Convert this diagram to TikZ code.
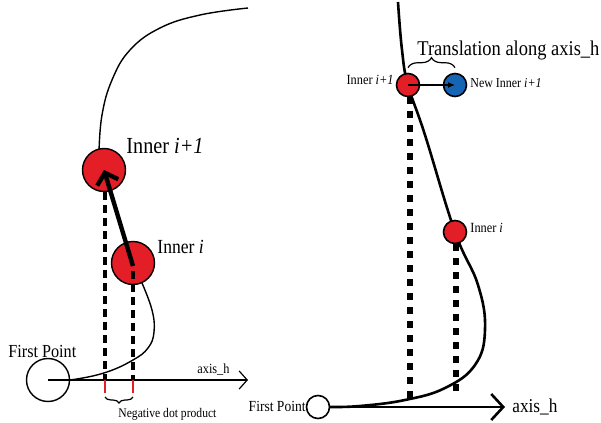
\documentclass[tikz,border=0pt]{standalone}
\usepackage{fontspec}
\setmainfont[FakeStretch=0.88]{Liberation Serif}
\usetikzlibrary{arrows.meta,decorations.pathreplacing,calc}
\definecolor{innerred}{HTML}{E31E26}
\definecolor{newblue}{HTML}{1565B4}
\tikzset{
	ptnode/.style={circle,draw,inner sep=0pt,line width=0.7pt},
	bigpt/.style={ptnode,minimum size=21.5pt},
	smallpt/.style={ptnode,minimum size=11.5pt,line width=0.8pt},
	proj/.style={line width=2pt,dash pattern=on 4pt off 2.5pt},
	bigproj/.style={line width=3pt,dash pattern=on 3.5pt off 3.5pt},
	redtick/.style={innerred,line width=0.6pt},
	br/.style={decorate,decoration={brace,amplitude=#1},line width=0.6pt},
	lbl/.style={anchor=base west,inner sep=0pt,font=\fontsize{#1}{#1}\selectfont},
	rlbl/.style={anchor=base east,inner sep=0pt,font=\fontsize{#1}{#1}\selectfont}
}

\begin{document}
\begin{tikzpicture}[x=0.5pt,y=-0.5pt]
		\path (0,0) rectangle (601,423);
		\newcommand{\leftupper}{(248,8) (200,15) (160,28) (130,50) (112,80) (102,115) (99,152)}
		\newcommand{\leftlower}{(142,283) (152,310) (154,332) (148,348) (133,360) (107,372) (77,379) (60,380)}
		\newcommand{\rightcurve}{(398,2) (402,50) (408,85) (425,135) (455,232) (478,285) (485,330) (475,365) (445,388) (405,400) (360,406) (330,407)}

		% left
		\draw[line width=0.7pt] plot[smooth, tension=0.7] coordinates{\leftupper};
		\draw[line width=0.7pt] plot[smooth, tension=0.7] coordinates{\leftlower};
		\node[bigpt] (lfirst) at (48,380) {};
		\node[bigpt,fill=innerred] (lnext) at (104,170) {};
		\node[bigpt,fill=innerred] (lcur) at (133,263) {};
		\coordinate (lp1) at (105,380);
		\coordinate (lp2) at (133,380);
		\coordinate (laxis) at (248,380);
		\draw[proj] (lnext.south -| lp1) -- (lp1);
		\draw[proj] ($(lcur.center)+(0,8)$) -- (lp2);
		\draw[line width=0.6pt,-{Straight Barb[length=4pt,width=9pt]}] (lfirst.center) -- (laxis);
		\draw[line width=2.2pt,-{Straight Barb[length=5pt,width=11pt]}] ($(lcur.center)+(0,3)$) -- (lnext.center);
		\draw[redtick] (lp1) -- ++(0,13);
		\draw[redtick] (lp2) -- ++(0,13);
		\draw[br=3pt] ($(lp2)+(0,17)$) -- ($(lp1)+(0,17)$);

		\node[lbl=11.5] (lnextlbl) at (126,154) {Inner \textit{i+1}};
		\node[lbl=10] (lcurlbl) at (157,253) {Inner \textit{i}};
		\node[lbl=9.2] (lfirstlbl) at (8,357) {First Point};
		\node[lbl=7] (laxislbl) at (197,373) {axis\_h};
		\node[lbl=6.6] (neglbl) at (118,417) {Negative dot product};

		% right
		\draw[line width=1.3pt] plot[smooth, tension=0.7] coordinates{\rightcurve};
		\node[smallpt,fill=white] (rfirst) at (318,407) {};
		\node[smallpt,fill=innerred] (rnext) at (408,85) {};
		\node[smallpt,fill=newblue] (rnew) at (455,85) {};
		\node[smallpt,fill=innerred] (rcur) at (455,232) {};
		\coordinate (rp1) at (410,398);
		\coordinate (rp2) at (456,392);
		\coordinate (raxis) at (505,407);
		\draw[bigproj] (rnext.south -| rp1) -- (rp1);
		\draw[bigproj] (rcur.south -| rp2) -- (rp2);
		\draw[line width=1.3pt,-{Straight Barb[length=6pt,width=13pt]}] (rfirst) -- (raxis);
		\draw[line width=0.6pt,-{Latex[length=3.5pt,width=3pt]}] (rnext.center) -- (rnew.center);
		\draw[br=5pt] ([yshift=2.5pt]rnext.north) -- ([yshift=2.5pt]rnew.north);

		\node[lbl=10.5] (translbl) at (417,55) {Translation along axis\_h};
		\node[rlbl=7] (rnextlbl) at (394,84) {Inner \textit{i+1}};
		\node[lbl=6.8] (rnewlbl) at (470,88) {New Inner \textit{i+1}};
		\node[lbl=7] (rcurlbl) at (470,232) {Inner \textit{i}};
		\node[rlbl=7.7] (rfirstlbl) at (306,411) {First Point};
		\node[lbl=9.8] (raxislbl) at (512,412) {axis\_h};
	\end{tikzpicture}
\end{document}
